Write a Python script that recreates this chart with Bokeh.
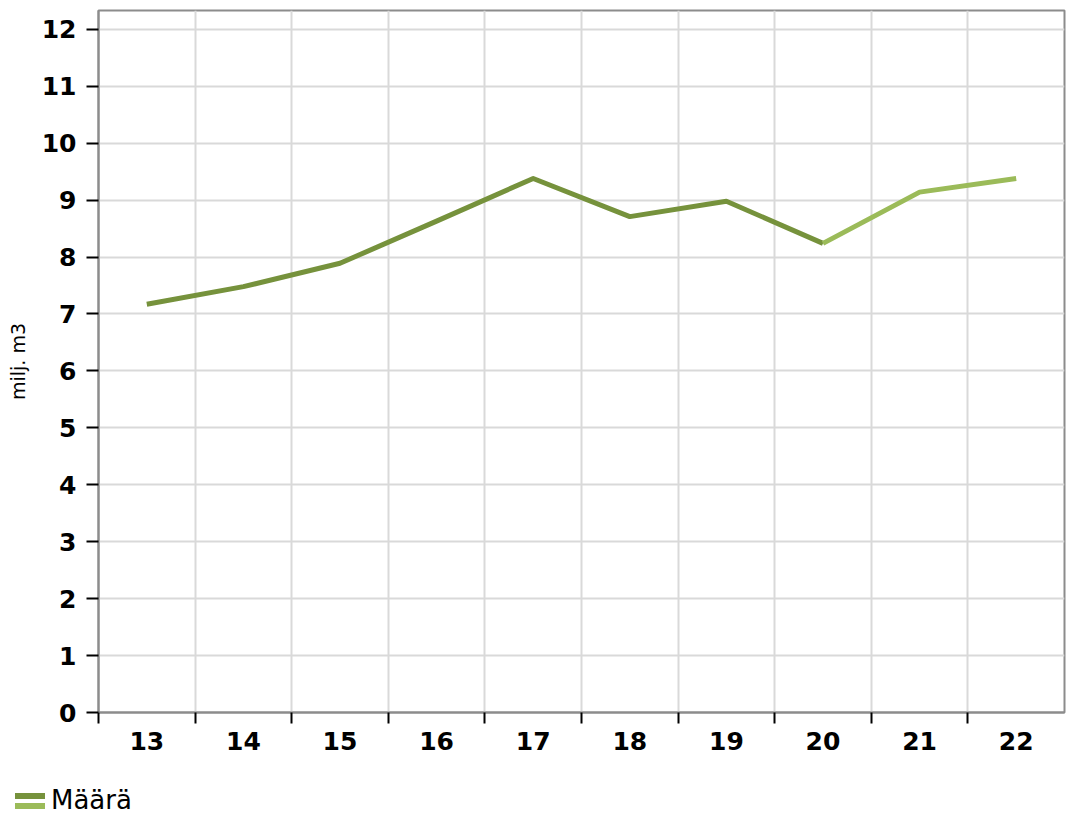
from bokeh.plotting import figure
from bokeh.models import Range1d, FixedTicker, Div
from bokeh.layouts import column
from bokeh.embed import file_html
from bokeh.resources import INLINE

# ---- data ----
years = ["13", "14", "15", "16", "17", "18", "19", "20", "21", "22"]
maara = [7.17, 7.48, 7.89, 8.63, 9.38, 8.71, 8.98, 8.24, 9.14, 9.38]
last_actual = "20"          # dark line up to here, light line after
y_ticks = list(range(0, 13))
y_title = "milj. m3"
legend_label = "Määrä"

DARK = "#76923C"
LIGHT = "#9BBB59"
FONT = "DejaVu Sans"

n = len(years)
xc = [i + 0.5 for i in range(n)]
k = years.index(last_actual)

W, H, LH = 1066, 780, 34

p = figure(width=W, height=H, output_backend="svg", toolbar_location=None,
           x_range=Range1d(0, n), y_range=Range1d(0, 12.33),
           min_border_left=98, min_border_right=2, min_border_top=10, min_border_bottom=68)
p.background_fill_color = "white"
p.border_fill_color = "white"
p.outline_line_color = "#8c8c8c"
p.outline_line_width = 2

# grid
p.xgrid.ticker = FixedTicker(ticks=list(range(1, n)))
p.ygrid.ticker = FixedTicker(ticks=y_ticks[1:])
for g in (p.xgrid, p.ygrid):
    g.grid_line_color = "#d9d9d9"
    g.grid_line_width = 2

# x axis: labels at category centres, tick marks at boundaries
xa = p.xaxis[0]
xa.ticker = FixedTicker(ticks=xc, minor_ticks=list(range(0, n)))
xa.major_label_overrides = {c: y for c, y in zip(xc, years)}
xa.major_tick_line_color = None
xa.major_tick_out = 10
xa.major_tick_in = 0
xa.minor_tick_line_color = "black"
xa.minor_tick_line_width = 2
xa.minor_tick_out = 11
xa.minor_tick_in = 0
xa.major_label_standoff = 8

ya = p.yaxis[0]
ya.ticker = FixedTicker(ticks=y_ticks)
ya.minor_tick_line_color = None
ya.major_tick_line_color = "black"
ya.major_tick_line_width = 2
ya.major_tick_out = 12
ya.major_tick_in = 0
ya.major_label_standoff = 10
ya.axis_label = y_title
ya.axis_label_text_font = FONT
ya.axis_label_text_font_style = "normal"
ya.axis_label_text_font_size = "19px"
ya.axis_label_text_color = "black"
ya.axis_label_standoff = 10

for ax in (xa, ya):
    ax.axis_line_color = "#8c8c8c"
    ax.axis_line_width = 2
    ax.major_label_text_font = FONT
    ax.major_label_text_font_style = "bold"
    ax.major_label_text_font_size = "25px"
    ax.major_label_text_color = "black"

p.line(xc[:k + 1], maara[:k + 1], line_color=DARK, line_width=5, line_join="round")
p.line(xc[k:], maara[k:], line_color=LIGHT, line_width=5, line_join="round")

# ---- legend strip (HTML) ----
legend_html = (
    f'<div style="position:relative;width:{W}px;height:{LH}px;font-family:\'{FONT}\';">'
    f'<div style="position:absolute;left:15px;top:13px;width:30px;height:6px;background:{DARK};"></div>'
    f'<div style="position:absolute;left:15px;top:23px;width:30px;height:6px;background:{LIGHT};"></div>'
    f'<span style="position:absolute;left:51px;top:6px;font-size:26px;line-height:28px;color:black;'
    f'white-space:nowrap;">{legend_label}</span>'
    '</div>'
)
lg = Div(text=legend_html, width=W, height=LH, margin=(0, 0, 0, 0))

layout = column(p, lg, spacing=0)
open("out.html", "w").write(file_html(layout, INLINE))
